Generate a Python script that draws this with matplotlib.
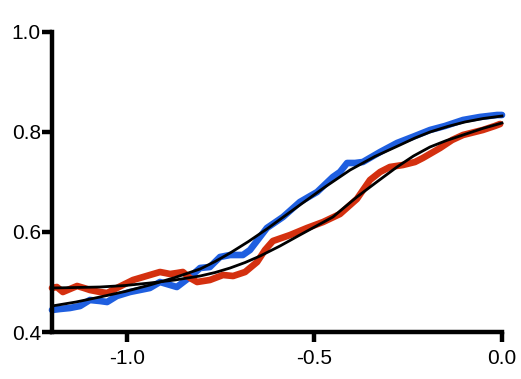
import matplotlib
matplotlib.use("Agg")
import matplotlib.pyplot as plt

# Noisy traces
blue_x = [-1.2, -1.179, -1.152, -1.125, -1.099, -1.072, -1.053, -1.027, -0.992, -0.939,
          -0.912, -0.885, -0.867, -0.832, -0.805, -0.779, -0.752, -0.725, -0.691, -0.672,
          -0.627, -0.584, -0.539, -0.493, -0.451, -0.432, -0.413, -0.392, -0.371, -0.325,
          -0.28, -0.232, -0.192, -0.152, -0.104, -0.059, -0.013, 0.0]
blue_y = [0.444, 0.446, 0.448, 0.452, 0.464, 0.462, 0.46, 0.472, 0.48, 0.488,
          0.50, 0.494, 0.49, 0.51, 0.528, 0.53, 0.55, 0.554, 0.554, 0.564,
          0.608, 0.63, 0.66, 0.68, 0.71, 0.72, 0.738, 0.738, 0.74, 0.76,
          0.778, 0.792, 0.804, 0.812, 0.824, 0.83, 0.834, 0.834]

red_x = [-1.2, -1.187, -1.171, -1.152, -1.133, -1.115, -1.099, -1.072, -1.053, -1.027,
         -0.984, -0.939, -0.912, -0.885, -0.867, -0.851, -0.832, -0.813, -0.779, -0.744,
         -0.717, -0.685, -0.653, -0.632, -0.611, -0.565, -0.52, -0.477, -0.432, -0.405,
         -0.387, -0.352, -0.325, -0.299, -0.264, -0.232, -0.211, -0.165, -0.133, -0.104,
         -0.051, -0.019, -0.005]
red_y = [0.488, 0.49, 0.48, 0.486, 0.492, 0.488, 0.484, 0.48, 0.478, 0.488,
         0.504, 0.514, 0.52, 0.516, 0.518, 0.52, 0.508, 0.50, 0.504, 0.514,
         0.512, 0.52, 0.54, 0.564, 0.582, 0.594, 0.608, 0.62, 0.636, 0.654,
         0.666, 0.704, 0.72, 0.73, 0.734, 0.74, 0.748, 0.768, 0.784, 0.794,
         0.804, 0.812, 0.816]

# Fitted curves
blue_fit_x = [-1.2, -1.136, -1.072, -1.005, -0.939, -0.872, -0.805, -0.765, -0.725,
              -0.676, -0.627, -0.583, -0.539, -0.472, -0.405, -0.339, -0.272, -0.232,
              -0.192, -0.145, -0.099, -0.05, 0.0]
blue_fit_y = [0.452, 0.46, 0.47, 0.481, 0.494, 0.509, 0.526, 0.541, 0.558,
              0.581, 0.606, 0.63, 0.654, 0.69, 0.724, 0.751, 0.774, 0.788,
              0.80, 0.811, 0.82, 0.827, 0.832]

red_fit_x = [-1.2, -1.136, -1.072, -1.005, -0.939, -0.872, -0.805, -0.765, -0.725,
             -0.685, -0.645, -0.592, -0.539, -0.495, -0.451, -0.419, -0.387, -0.334,
             -0.28, -0.236, -0.192, -0.148, -0.104, -0.052, 0.0]
red_fit_y = [0.488, 0.489, 0.49, 0.493, 0.498, 0.504, 0.512, 0.519, 0.528,
             0.539, 0.552, 0.572, 0.594, 0.612, 0.63, 0.65, 0.67, 0.70,
             0.73, 0.752, 0.77, 0.783, 0.794, 0.807, 0.818]

x_ticks = [-1.0, -0.5, 0.0]
y_ticks = [0.4, 0.6, 0.8, 1.0]

plt.rcParams["font.family"] = ["Liberation Sans", "DejaVu Sans"]

fig = plt.figure(figsize=(5.21, 3.79), dpi=100)
ax = fig.add_axes([0.0998, 0.124, 0.8637, 0.7916])

ax.plot(blue_x, blue_y, color="#1f5fe0", lw=4.8, solid_capstyle="round",
        solid_joinstyle="round", clip_on=False)
ax.plot(red_x, red_y, color="#d4300f", lw=4.8, solid_capstyle="round",
        solid_joinstyle="round", clip_on=False)
ax.plot(blue_fit_x, blue_fit_y, color="black", lw=2.0, clip_on=False)
ax.plot(red_fit_x, red_fit_y, color="black", lw=2.0, clip_on=False)

ax.set_xlim(-1.2, 0.0)
ax.set_ylim(0.4, 1.0)
ax.set_xticks(x_ticks)
ax.set_xticklabels(["-1.0", "-0.5", "0.0"])
ax.set_yticks(y_ticks)
ax.set_yticklabels(["0.4", "0.6", "0.8", "1.0"])

for side in ["top", "right"]:
    ax.spines[side].set_visible(False)
for side in ["left", "bottom"]:
    ax.spines[side].set_linewidth(3.2)
    ax.spines[side].set_capstyle("projecting")

ax.tick_params(width=3.2, length=7, labelsize=15)
ax.tick_params(axis="x", pad=5)
ax.tick_params(axis="y", pad=1)

fig.savefig("out.png", dpi=100)
